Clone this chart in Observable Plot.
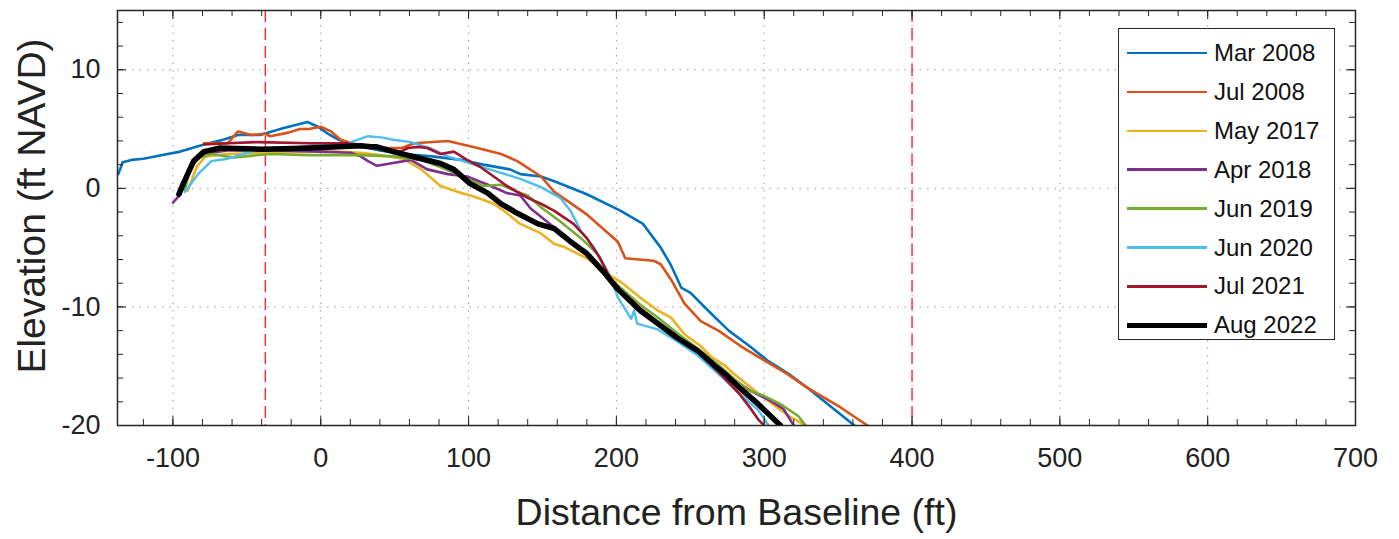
<!DOCTYPE html>
<html>
<head>
<meta charset="utf-8">
<script src="https://cdn.jsdelivr.net/npm/d3@7"></script>
<script src="https://cdn.jsdelivr.net/npm/@observablehq/plot@0.6"></script>
<style>
  html, body { margin: 0; padding: 0; background: #fff; }
  #wrap { position: relative; width: 1399px; height: 539px; font-family: "Liberation Sans", Arial, sans-serif; }
  #legend { position: absolute; left: 1118px; top: 28px; width: 217px; height: 312px; border: 1.5px solid #262626; background: #fff; box-sizing: border-box; }
  .row { position: absolute; left: 0; height: 30px; display: flex; align-items: center; }
  .sw { width: 80px; margin-left: 8px; margin-right: 7px; }
  .lab { font-size: 24px; color: #111; white-space: nowrap; }
</style>
</head>
<body>
<div id="wrap"><div id="legend"></div></div>
<script>
// ---- data ----
const seriesNames = ["Mar 2008", "Jul 2008", "May 2017", "Apr 2018", "Jun 2019", "Jun 2020", "Jul 2021", "Aug 2022"];
const seriesColors = ["#0072BD", "#D95319", "#EDB120", "#7E2F8E", "#77AC30", "#4DBEEE", "#A2142F", "#000000"];

const mar2008 = [[-137,1.2],[-134,2.2],[-128,2.4],[-120,2.5],[-108,2.8],[-95,3.1],[-79,3.7],[-66,4.1],[-56,4.5],[-41,4.5],[-25,5.1],[-9,5.6],[-2,5.2],[5,4.6],[12,4.1],[25,3.6],[40,3.2],[56,2.9],[75,2.7],[95,2.4],[110,2.0],[128,1.6],[135,1.2],[149,1.0],[158,0.6],[180,-0.5],[203,-1.9],[218,-3.0],[230,-5.0],[237,-6.5],[244,-8.4],[250,-8.8],[262,-10.3],[276,-12.0],[290,-13.3],[302,-14.5],[316,-15.6],[329,-16.8],[345,-18.4],[357,-19.6],[361,-20]];
const jul2008 = [[-79,3.8],[-63,3.8],[-56,4.8],[-47,4.5],[-38,4.6],[-34,4.4],[-22,4.7],[-14,5.0],[-8,5.0],[0,5.2],[7,4.8],[13.5,4.1],[27,3.6],[45,3.4],[55,3.4],[63,3.8],[86,4.0],[106,3.4],[122,2.9],[133,2.3],[149,1.0],[158,-0.3],[180,-2.2],[201,-4.5],[206,-5.9],[225,-6.1],[230,-6.4],[237,-7.7],[246,-9.7],[257,-11.2],[269,-12.0],[284,-13.3],[300,-14.5],[315,-15.6],[329,-16.8],[352,-18.5],[365,-19.6],[370,-20]];
const may2017 = [[-90,-0.2],[-84,1.8],[-78,2.7],[-63,2.9],[-40,3.0],[-18,3.1],[10,3.1],[27,3.0],[40,2.8],[56,2.5],[68,1.6],[81,0.2],[93,-0.3],[104,-0.7],[117,-1.3],[126,-2.1],[135,-3.0],[149,-3.8],[158,-4.7],[164,-4.9],[180,-5.9],[194,-7.2],[203,-7.9],[216,-9.2],[228,-10.3],[237,-10.9],[246,-12.3],[257,-13.3],[264,-14.2],[273,-14.9],[279,-15.6],[296,-17.3],[309,-18.5],[318,-19.3],[328,-20]];
const apr2018 = [[-100,-1.2],[-95,-0.5],[-88,1.8],[-80,2.9],[-63,3.2],[-30,3.2],[0,3.1],[20,3.0],[27,2.7],[32,2.3],[38,1.9],[47,2.1],[61,2.4],[72,1.6],[86,1.2],[99,1.0],[113,0.3],[126,-0.4],[135,-0.6],[142,-1.7],[154,-2.9],[169,-4.4],[180,-5.5],[191,-6.9],[201,-8.4],[216,-10.2],[228,-11.3],[235,-12.0],[250,-13.3],[266,-15.0],[280,-16.2],[291,-17.1],[304,-17.9],[313,-18.6],[320,-20]];
const jun2019 = [[-92,-0.2],[-88,2.0],[-82,2.6],[-74,2.9],[-59,2.6],[-34,2.9],[-7,2.8],[27,2.8],[49,2.7],[68,2.4],[83,1.7],[99,0.8],[110,0.2],[122,0.3],[133,-0.3],[140,-0.6],[149,-1.6],[162,-2.8],[176,-4.2],[187,-5.5],[196,-7.6],[203,-8.4],[216,-9.8],[228,-10.9],[241,-12.2],[255,-13.5],[270,-15.0],[280,-16.1],[289,-17.0],[300,-17.5],[311,-18.2],[323,-19.2],[328,-20]];
const jun2020 = [[-92,-0.3],[-83,1.2],[-74,2.3],[-63,2.5],[-47,3.1],[-18,3.4],[5,3.8],[18,3.8],[32,4.4],[41,4.3],[49,4.1],[61,3.9],[74,3.4],[86,2.7],[101,2.1],[122,1.3],[135,0.8],[149,0.1],[162,-0.8],[169,-1.9],[176,-3.6],[185,-5.0],[194,-7.0],[198,-8.2],[201,-9.2],[210,-11.0],[212,-10.3],[214,-11.4],[228,-11.9],[241,-12.9],[255,-14.1],[264,-15.1],[273,-16.1],[285,-17.5],[296,-18.7],[303,-20]];
const jul2021 = [[-79,3.7],[-63,3.8],[-43,3.9],[-7,3.8],[18,3.8],[32,3.5],[54,3.1],[59,3.4],[66,3.5],[72,3.4],[81,2.9],[90,3.1],[99,2.4],[108,1.8],[117,1.0],[126,0.2],[140,-0.8],[149,-1.3],[158,-1.9],[171,-3.0],[180,-4.2],[189,-5.9],[196,-7.6],[203,-8.6],[216,-10.1],[228,-11.3],[241,-12.5],[255,-13.8],[270,-15.6],[283,-17.3],[291,-18.6],[296,-19.5],[300,-20]];
const aug2022 = [[-96,-0.5],[-93,0.4],[-86,2.3],[-79,3.1],[-68,3.4],[-39,3.3],[-7,3.4],[27,3.6],[34,3.5],[38,3.5],[49,3.1],[68,2.5],[81,2.1],[90,1.6],[101,0.4],[113,-0.4],[122,-1.3],[133,-2.1],[147,-3.0],[158,-3.4],[169,-4.5],[180,-5.5],[191,-7.0],[201,-8.5],[216,-10.3],[228,-11.4],[241,-12.6],[255,-13.7],[266,-14.9],[273,-15.6],[285,-17.0],[296,-18.2],[311,-20]];

const seriesPoints = [mar2008, jul2008, may2017, apr2018, jun2019, jun2020, jul2021, aug2022];
const seriesWidths = [2.6, 2.6, 2.6, 2.6, 2.6, 2.4, 2.6, 5.5];
const legendWidths = [2.4, 2.4, 2.4, 2.4, 2.4, 2.2, 2.4, 5];

const xDomain = [-137.5, 700];
const yDomain = [-20, 15];
const xTicks = [-100, 0, 100, 200, 300, 400, 500, 600, 700];
const yTicks = [-20, -10, 0, 10];
const xMinorTicks = d3.range(-120, 701, 20);
const yMinorTicks = d3.range(-20, 15.01, 2);
const baselineMarks = [-37.5, 400];

// ---- layout ----
const W = 1399, H = 539;
const mL = 117, mR = 44, mT = 10, mB = 114;
const frameH = H - mT - mB, frameW = W - mL - mR;

const data = seriesPoints.map((pts, i) => pts.map(([x, y]) => ({series: seriesNames[i], x, y})));

const lineMarks = data.map((d, i) => Plot.line(d, {
  x: "x", y: "y", stroke: seriesColors[i], strokeWidth: seriesWidths[i],
  strokeLinejoin: "round", strokeLinecap: "round", clip: true
}));

const tickColor = "#262626";
const chart = Plot.plot({
  width: W, height: H,
  marginLeft: mL, marginRight: mR, marginTop: mT, marginBottom: mB,
  style: {fontFamily: "'Liberation Sans', Arial, sans-serif", fontSize: "27px", color: "#222", background: "#fff"},
  x: {domain: xDomain, axis: null},
  y: {domain: yDomain, axis: null},
  marks: [
    Plot.gridX(xTicks, {stroke: "#9a9a9a", strokeOpacity: 1, strokeWidth: 1, strokeDasharray: "1.5,6"}),
    Plot.gridY(yTicks, {stroke: "#9a9a9a", strokeOpacity: 1, strokeWidth: 1, strokeDasharray: "1.5,6"}),
    Plot.ruleX(baselineMarks, {stroke: "#ff1a1a", strokeWidth: 1.3, strokeDasharray: "12,6"}),
    ...lineMarks,
    // inward ticks on all four sides
    Plot.tickX(xMinorTicks, {x: d => d, stroke: tickColor, insetTop: frameH - 6}),
    Plot.tickX(xMinorTicks, {x: d => d, stroke: tickColor, insetBottom: frameH - 6}),
    Plot.tickX(xTicks, {x: d => d, stroke: tickColor, insetTop: frameH - 9}),
    Plot.tickX(xTicks, {x: d => d, stroke: tickColor, insetBottom: frameH - 9}),
    Plot.tickY(yMinorTicks, {y: d => d, stroke: tickColor, insetRight: frameW - 6}),
    Plot.tickY(yMinorTicks, {y: d => d, stroke: tickColor, insetLeft: frameW - 6}),
    Plot.tickY(yTicks, {y: d => d, stroke: tickColor, insetRight: frameW - 9}),
    Plot.tickY(yTicks, {y: d => d, stroke: tickColor, insetLeft: frameW - 9}),
    Plot.frame({stroke: tickColor, strokeWidth: 1.5}),
    Plot.axisX(xTicks, {anchor: "bottom", tickSize: 0, tickPadding: 22, tickFormat: d => String(d), label: null, fontSize: 27}),
    Plot.axisY(yTicks, {anchor: "left", tickSize: 0, tickPadding: 17, tickFormat: d => String(d), label: null, fontSize: 27}),
    Plot.text(["Distance from Baseline (ft)"], {frameAnchor: "bottom", textAnchor: "middle", lineAnchor: "middle", dy: 87, fontSize: 37.5, fill: "#222"}),
    Plot.text(["Elevation (ft NAVD)"], {frameAnchor: "left", textAnchor: "middle", lineAnchor: "middle", rotate: -90, dx: -85, dy: -12, fontSize: 39, fill: "#222"})
  ]
});
document.getElementById("wrap").prepend(chart);

// ---- legend ----
const legend = d3.select("#legend");
seriesNames.forEach((name, i) => {
  const row = legend.append("div").attr("class", "row").style("top", (9 + i * 38.9) + "px");
  row.append("div").attr("class", "sw")
    .style("height", legendWidths[i] + "px")
    .style("background", seriesColors[i]);
  row.append("div").attr("class", "lab").text(name);
});
</script>
</body>
</html>
